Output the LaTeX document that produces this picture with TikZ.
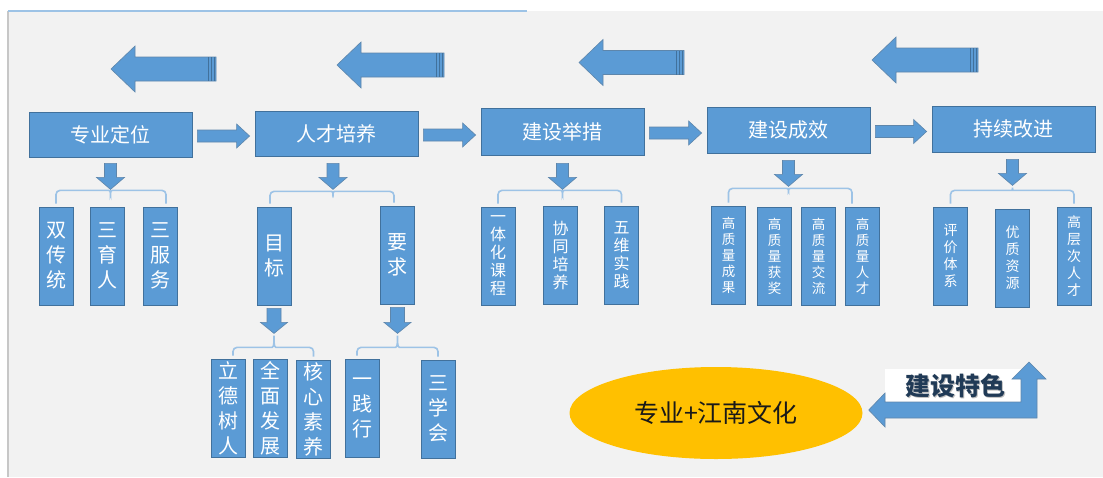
\documentclass[tikz,border=0pt]{standalone}
\usepackage{fontspec}
\setmainfont{Noto Sans CJK SC}
\usetikzlibrary{calc,shapes.geometric}
\definecolor{boxblue}{HTML}{5B9BD5}
\definecolor{boxedge}{HTML}{41719C}
\definecolor{brcol}{HTML}{9DC3E6}
\definecolor{bggray}{HTML}{F2F2F2}
\definecolor{ellyel}{HTML}{FFC000}
\definecolor{titlecol}{HTML}{203A56}
% horizontal block arrow: #1 tail, #2 tip, #3 shaft half, #4 head half, #5 signed offset tip->head base
\newcommand\harrow[5]{\path[arr] let \p1=#1, \p2=#2 in (\x1,\y1+#3) -- (\x2#5,\y1+#3) -- (\x2#5,\y1+#4) -- (\x2,\y1) -- (\x2#5,\y1-#4) -- (\x2#5,\y1-#3) -- (\x1,\y1-#3) -- cycle;}
% vertical (downward) block arrow
\newcommand\varrow[5]{\path[arr] let \p1=#1, \p2=#2 in (\x1+#3,\y1) -- (\x1+#3,\y2#5) -- (\x1+#4,\y2#5) -- (\x1,\y2) -- (\x1-#4,\y2#5) -- (\x1-#3,\y2#5) -- (\x1-#3,\y1) -- cycle;}
% stripes at tail of top arrows
\newcommand\stripes[1]{\draw[stripe] let \p1=#1 in (\x1-1.5pt,\y1-12pt) -- (\x1-1.5pt,\y1+12pt) (\x1-4.5pt,\y1-12pt) -- (\x1-4.5pt,\y1+12pt) (\x1-8pt,\y1-12pt) -- (\x1-8pt,\y1+12pt);}
% bracket: #1 left leaf, #2 right leaf, #3 tip coordinate, #4 left shift, #5 right shift, #6 drop of horizontal line below tip
\newcommand\bracket[6]{\draw[br] let \p1=(#1.north), \p2=(#2.north), \p3=#3 in (\x1#4,\y1+3pt) |- (\x3-6pt,\y3-#6) .. controls (\x3-1pt,\y3-#6) and (\x3,\y3-#6) .. (\x3,\y3) .. controls (\x3,\y3-#6) and (\x3+1pt,\y3-#6) .. (\x3+6pt,\y3-#6) -| (\x2#5,\y2+3pt);}
\begin{document}
\begin{tikzpicture}[x=1pt,y=-1pt,
  arr/.style={fill=boxblue, draw=boxedge!85, line width=0.6},
  mainbox/.style={fill=boxblue, draw=boxedge, line width=0.8, text=white, minimum width=163, minimum height=45, inner sep=0, font=\fontsize{20}{24}\selectfont},
  leaf/.style={fill=boxblue, draw=boxedge, line width=0.8, text=white, minimum width=34, minimum height=98, inner sep=0, align=center},
  fa/.style={font=\fontsize{20}{25}\selectfont},
  fb/.style={font=\fontsize{16}{18}\selectfont},
  fc/.style={font=\fontsize{13.5}{16}\selectfont},
  fe/.style={font=\fontsize{14}{17}\selectfont},
  br/.style={draw=brcol, line width=1.6, rounded corners=4pt},
  stripe/.style={draw=boxedge, line width=0.9}]
\useasboundingbox (0,0) rectangle (1103,477);
\fill[white] (0,0) rectangle (1103,477);
\fill[bggray] (8,11) rectangle (1103,477);
\draw[line width=2, draw=black!22] (8,11) -- (8,477);
\draw[line width=1.2, draw=brcol] (8,11) -- (527,11);

% top feedback arrows (pointing left)
\coordinate (T1t) at (216,69);   \coordinate (T1h) at (111,69);
\coordinate (T2t) at (444,65);   \coordinate (T2h) at (337,65);
\coordinate (T3t) at (684,62.5); \coordinate (T3h) at (579,62.5);
\coordinate (T4t) at (978,60);   \coordinate (T4h) at (872,60);
\foreach \i in {1,2,3,4}{
  \harrow{(T\i t)}{(T\i h)}{12pt}{23pt}{+24pt}
  \stripes{(T\i t)}
}

% main boxes
\node[mainbox] (A) at (110.5,134.5) {专业定位};
\node[mainbox] (B) at (336.5,133.5) {人才培养};
\node[mainbox, minimum height=47] (C) at (562.5,131.5) {建设举措};
\node[mainbox, minimum height=46] (D) at (788.5,130) {建设成效};
\node[mainbox, minimum height=46] (E) at (1013.5,129) {持续改进};

% arrows between main boxes
\harrow{($(A.east)+(5,1.5)$)}{($(B.west)+(-5,1.5)$)}{6pt}{12pt}{-13pt}
\harrow{($(B.east)+(5,1.5)$)}{($(C.west)+(-5,1.5)$)}{6pt}{12pt}{-13pt}
\harrow{($(C.east)+(5,1.5)$)}{($(D.west)+(-5,1.5)$)}{6pt}{12pt}{-13pt}
\harrow{($(D.east)+(5,1.5)$)}{($(E.west)+(-5,1.5)$)}{6pt}{12pt}{-13pt}

% leaves
\node[leaf,fa] (a1) at (56,256) {双\\传\\统};
\node[leaf,fa] (a2) at (107.5,256) {三\\育\\人};
\node[leaf,fa] (a3) at (160,256) {三\\服\\务};

\node[leaf,fa] (b1) at (274,256) {目\\标};
\node[leaf,fa] (b2) at (397.5,255) {要\\求};

\node[leaf,fa] (c1) at (228.5,408) {立\\德\\树\\人};
\node[leaf,fa] (c2) at (270.5,408) {全\\面\\发\\展};
\node[leaf,fa] (c3) at (313.5,409) {核\\心\\素\\养};
\node[leaf,fa] (d1) at (362.5,408) {一\\践\\行};
\node[leaf,fa] (d2) at (438,409) {三\\学\\会};

\node[leaf,fb] (e1) at (498,256) {一\\体\\化\\课\\程};
\node[leaf,fb] (e2) at (560.5,255) {协\\同\\培\\养};
\node[leaf,fb] (e3) at (621.5,255) {五\\维\\实\\践};

\node[leaf,fc] (f1) at (728.5,255) {高\\质\\量\\成\\果};
\node[leaf,fc] (f2) at (774.5,256) {高\\质\\量\\获\\奖};
\node[leaf,fc] (f3) at (818.5,256) {高\\质\\量\\交\\流};
\node[leaf,fc] (f4) at (862.5,256) {高\\质\\量\\人\\才};

\node[leaf,fe] (g1) at (950.5,256) {评\\价\\体\\系};
\node[leaf,fe] (g2) at (1012.5,258) {优\\质\\资\\源};
\node[leaf,fe] (g3) at (1074,256) {高\\层\\次\\人\\才};

% tips of down arrows
\coordinate (tA) at ($(A.south)+(0,32)$);
\coordinate (tB) at ($(B.south)+(-3.5,33)$);
\coordinate (tC) at ($(C.south)+(0,34)$);
\coordinate (tD) at ($(D.south)+(0,33)$);
\coordinate (tE) at ($(E.south)+(-1,33)$);
\coordinate (tb1) at ($(b1.south)+(0,28)$);
\coordinate (tb2) at ($(b2.south)+(0,29)$);

% brackets
\bracket{a1}{a3}{(tA)}{+0pt}{+6pt}{1pt}
\bracket{b1}{b2}{(tB)}{-4pt}{-3.5pt}{2pt}
\bracket{e1}{e3}{(tC)}{+0pt}{+0pt}{1pt}
\bracket{f1}{f4}{(tD)}{+0pt}{-10.5pt}{2pt}
\bracket{g1}{g3}{(tE)}{+0pt}{+0pt}{5pt}
\bracket{c1}{c3}{(tb1)}{+4.5pt}{+0pt}{14pt}
\bracket{d1}{d2}{(tb2)}{-5.5pt}{+0pt}{14pt}

% down arrows
\varrow{($(A.south)+(0,6)$)}{(tA)}{6pt}{14pt}{+12pt}
\varrow{($(B.south)+(-3.5,7)$)}{(tB)}{6pt}{14pt}{+12pt}
\varrow{($(C.south)+(0,8)$)}{(tC)}{6pt}{14pt}{+12pt}
\varrow{($(D.south)+(0,7)$)}{(tD)}{6pt}{14pt}{+12pt}
\varrow{($(E.south)+(-1,7)$)}{(tE)}{6pt}{14pt}{+12pt}
\varrow{($(b1.south)+(0,3)$)}{(tb1)}{7pt}{13.5pt}{+11pt}
\varrow{($(b2.south)+(0,3)$)}{(tb2)}{7pt}{13.5pt}{+11pt}

% feature ellipse and bent arrow
\node[ellipse, fill=ellyel, minimum width=293, minimum height=92, inner sep=0, font=\fontsize{25}{25}\selectfont, text=black!90] (el) at (716,413) {专业+江南文化};
\fill[white] (885,369) rectangle (1021,402);
\coordinate (bt) at ($(el.east)+(6,-3)$);
\path[arr] (bt) -- (885,393) -- (885,402) -- (1021,402) -- (1021,379) -- (1012,379) -- (1029,362) -- (1046,379) -- (1037,379) -- (1037,418) -- (885,418) -- (885,427) -- cycle;
\node[font=\bfseries\fontsize{25}{25}\selectfont, text=black!25] at (956.2,387.2) {建设特色};
\node[font=\bfseries\fontsize{25}{25}\selectfont, text=titlecol] (ts) at (955,386) {建设特色};
\end{tikzpicture}
\end{document}
